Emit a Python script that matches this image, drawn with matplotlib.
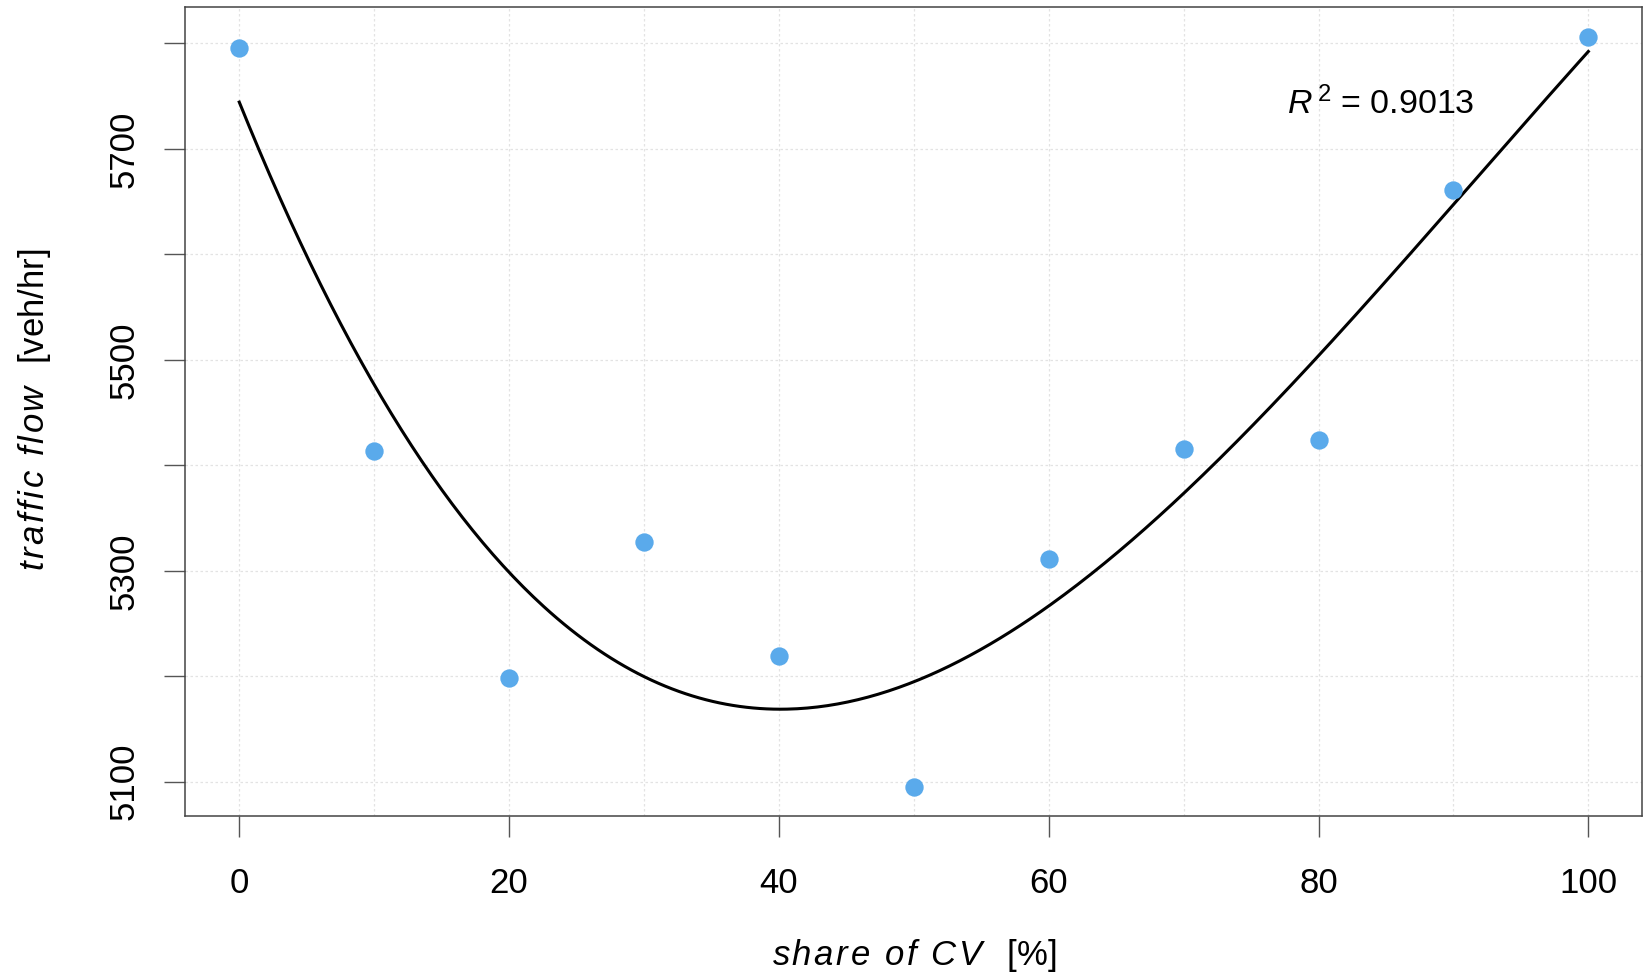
import numpy as np
import matplotlib
matplotlib.use("Agg")
import matplotlib.pyplot as plt

plt.rcParams["font.family"] = ["Liberation Sans", "DejaVu Sans"]
plt.rcParams["mathtext.fontset"] = "custom"
plt.rcParams["mathtext.rm"] = "Liberation Sans"
plt.rcParams["mathtext.it"] = "Liberation Sans:italic"

# data
share_cv = [0, 10, 20, 30, 40, 50, 60, 70, 80, 90, 100]
flow = [5796, 5414, 5198, 5327, 5219, 5095, 5311, 5415, 5424, 5661, 5806]

x_ticks = [0, 20, 40, 60, 80, 100]
y_ticks = [5100, 5200, 5300, 5400, 5500, 5600, 5700, 5800]
y_tick_labels = ["5100", "", "5300", "", "5500", "", "5700", ""]
r2_text = r"$\mathit{R}^{\,2}$ = 0.9013"


def spaced_italic(s, gap=0.09, tail=0.2):
    # R draws these italic labels a little letter-spaced
    parts = [r"\ " if c == " " else c for c in s]
    return r"$\mathit{" + (r"\hspace{%g}" % gap).join(parts) + r"}\hspace{%g}$" % tail


# cubic fit through the points
coef = np.polyfit(share_cv, flow, 3)
xs = np.linspace(0, 100, 400)
ys = np.polyval(coef, xs)

fig = plt.figure(figsize=(16.5, 9.76), dpi=100)
ax = fig.add_axes([185.3 / 1650, 1 - 816 / 976, (1642.3 - 185.3) / 1650, (816 - 6.7) / 976])

# light dotted grid like R's grid()
for gx in range(0, 101, 10):
    ax.axvline(gx, color="#e3e3e3", lw=0.9, ls=(0, (2, 2)), zorder=0)
for gy in range(5100, 5801, 100):
    ax.axhline(gy, color="#e3e3e3", lw=0.9, ls=(0, (2, 2)), zorder=0)

ax.plot(xs, ys, color="black", lw=2.2, zorder=2)
ax.plot(share_cv, flow, "o", color="#5aaaeb", ms=13.2, mec="none", zorder=3)

ax.set_xlim(-4, 104)
ax.set_ylim(5067.5, 5834.8)
ax.set_xticks(x_ticks)
ax.set_xticklabels([str(t) for t in x_ticks])
ax.set_yticks(y_ticks)
ax.set_yticklabels(y_tick_labels, rotation=90, va="center")

ax.tick_params(axis="both", direction="out", length=15, width=1.0, color="#555555",
               labelsize=25, labelcolor="black")
ax.tick_params(axis="x", pad=22)
ax.tick_params(axis="y", pad=17)
for s in ax.spines.values():
    s.set_color("#444444")
    s.set_linewidth(1.1)

ax.text(84.6, 5743, r2_text, fontsize=24.5, ha="center", va="center")

fig.text(913.8 / 1650, 1 - 955 / 976, spaced_italic("share of CV") + "  [%]", fontsize=25,
         ha="center", va="center")
fig.text(35 / 1650, 1 - 410 / 976, spaced_italic("traffic flow", tail=0.1) + "  [veh/hr]",
         fontsize=25, ha="center", va="center", rotation=90)

fig.savefig("out.png", dpi=100)
